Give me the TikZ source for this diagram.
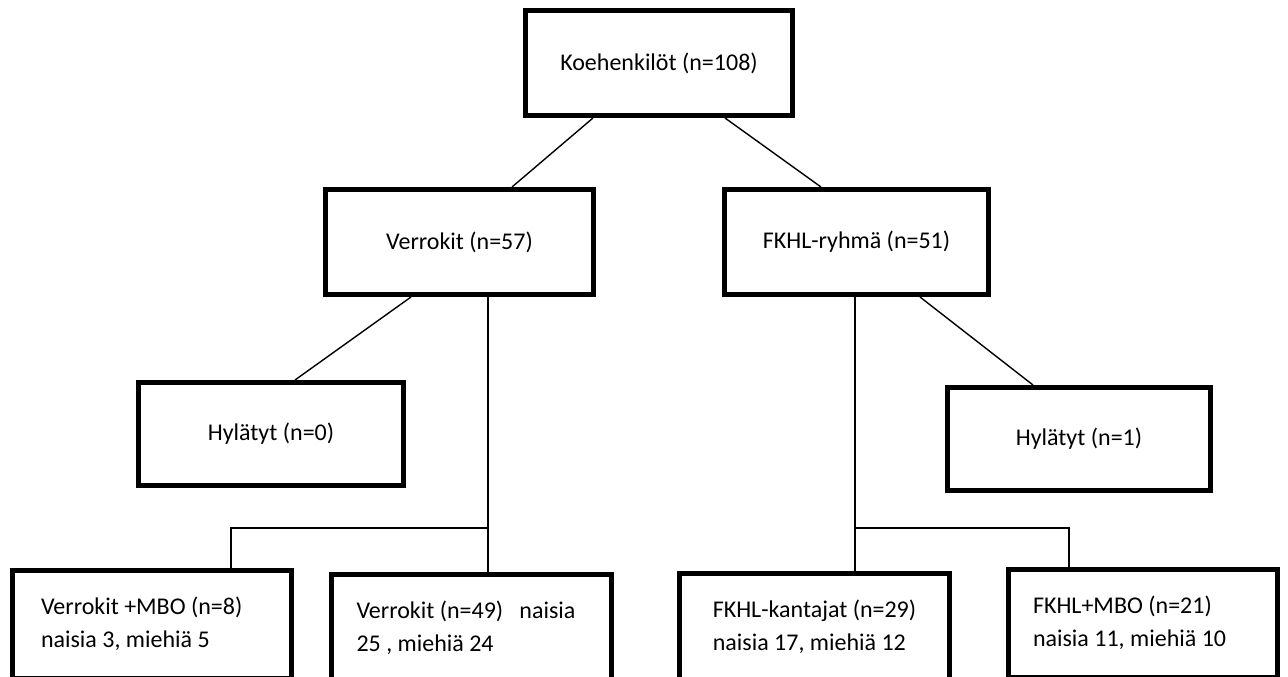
\documentclass[tikz,border=0pt]{standalone}
\usepackage{fontspec}
\setmainfont{Carlito}
\usetikzlibrary{positioning}

\begin{document}
\begin{tikzpicture}[x=1pt, y=-1pt,
    box/.style={draw, line width=5pt, minimum height=105pt, inner sep=0pt,
      font=\fontsize{24}{33}\selectfont},
    leaf/.style={box, minimum height=108pt, align=flush left, text width=#1},
    link/.style={line width=1.4pt}]
  \useasboundingbox (0,0) rectangle (1288,677);

  % upper levels
  \node[box, minimum width=267pt] (koe) at (659,63) {Koehenkilöt (n=108)};
  \node[box, minimum width=268pt] (verr) at (459.5,242) {Verrokit (n=57)};
  \node[box, minimum width=264pt] (fkhl) at (856.5,242) {FKHL-ryhmä (n=51)};
  \node[box, minimum width=265pt, minimum height=103pt] (hyl0) at (271,434) {Hylätyt (n=0)};
  \node[box, minimum width=263pt, minimum height=103pt] (hyl1) at (1079,439) {Hylätyt (n=1)};

  % lowest level
  \node[leaf=222pt, minimum width=279pt] (vmbo) at (152,624)
    {Verrokit +MBO (n=8)\\naisia 3, miehiä 5};
  \node[leaf=230pt, minimum width=280pt] (vver) at (471.5,628)
    {Verrokit (n=49)\ \ \ naisia\\25 , miehiä 24};
  \node[box, align=left, minimum height=108pt, minimum width=270pt] (fkan) at (814.5,627)
    {FKHL-kantajat (n=29)\\naisia 17, miehiä 12};
  \node[leaf=220pt, minimum width=269pt] (fmbo) at (1143,623)
    {FKHL+MBO (n=21)\\naisia 11, miehiä 10};

  \coordinate (vsplit) at (488,528);
  \coordinate (fsplit) at (855,528);

  \draw[link] ([xshift=-66pt]koe.south) -- ([xshift=52.5pt]verr.north);
  \draw[link] ([xshift=66pt]koe.south) -- ([xshift=-35.5pt]fkhl.north);
  \draw[link] ([xshift=-48.5pt]verr.south) -- ([xshift=24pt]hyl0.north);
  \draw[link] ([xshift=63.5pt]fkhl.south) -- ([xshift=-46pt]hyl1.north);

  \draw[link] (verr.south -| vsplit) -- (vver.north -| vsplit);
  \draw[link] (vsplit) -| ([xshift=79pt]vmbo.north);
  \draw[link] (fkhl.south -| fsplit) -- (fkan.north -| fsplit);
  \draw[link] (fsplit) -| ([xshift=-74pt]fmbo.north);
\end{tikzpicture}
\end{document}
